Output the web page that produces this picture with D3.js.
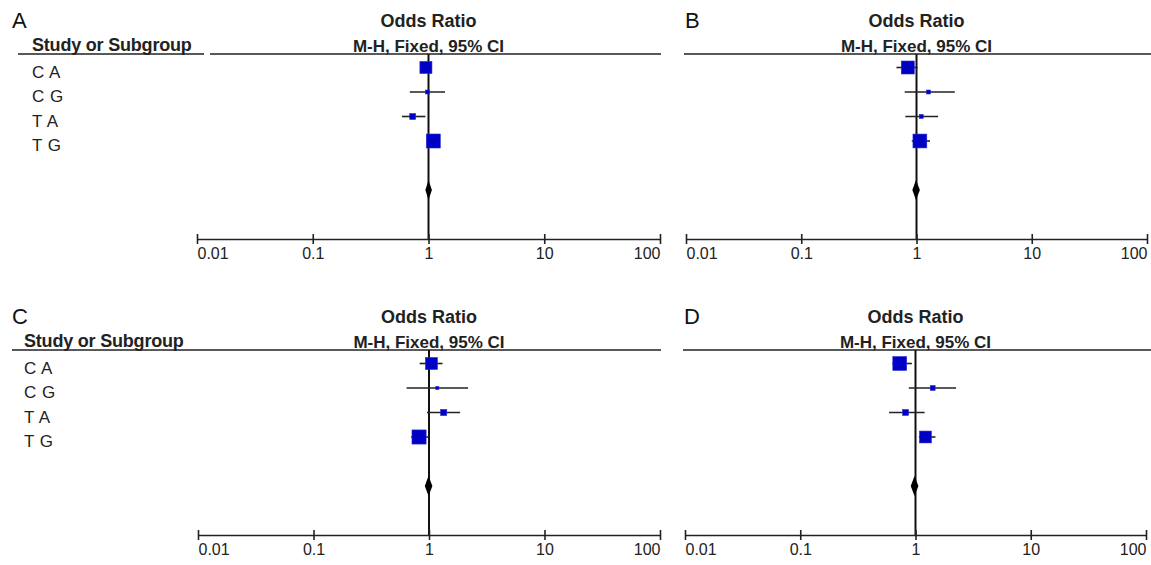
<!DOCTYPE html>
<html>
<head>
<meta charset="utf-8">
<script src="https://cdn.jsdelivr.net/npm/d3@7"></script>
<style>
  body { margin: 0; background: #fff; }
  svg { display: block; }
  text { font-family: "Liberation Sans", Arial, sans-serif; }
</style>
</head>
<body>
<svg id="chart" width="1151" height="565"></svg>
<script>
// subgroup names and axis ticks
var categories = ["C A", "C G", "T A", "T G"];
var tickValues = [0.01, 0.1, 1, 10, 100];
var tickLabels = ["0.01", "0.1", "1", "10", "100"];

// panel A
var orA = [0.95, 0.98, 0.73, 1.10];
var lowA = [0.87, 0.69, 0.59, 0.99];
var highA = [1.04, 1.39, 0.94, 1.20];
var weightA = [37, 4, 9, 50];
var pooledA = [1.00, 0.94, 1.07];

// panel B
var orB = [0.84, 1.27, 1.10, 1.07];
var lowB = [0.67, 0.79, 0.80, 0.91];
var highB = [1.02, 2.15, 1.54, 1.31];
var weightB = [43, 4, 4, 49];
var pooledB = [0.99, 0.92, 1.07];

// panel C
var orC = [1.05, 1.18, 1.34, 0.82];
var lowC = [0.83, 0.64, 0.96, 0.70];
var highC = [1.31, 2.18, 1.86, 1.00];
var weightC = [37, 2.5, 9.5, 51];
var pooledC = [0.99, 0.92, 1.07];

// panel D
var orD = [0.73, 1.41, 0.82, 1.22];
var lowD = [0.63, 0.875, 0.59, 1.07];
var highD = [0.93, 2.25, 1.20, 1.49];
var weightD = [49, 6, 9, 36];
var pooledD = [0.98, 0.91, 1.06];

var panels = [
  { letter: "A", or: orA, low: lowA, high: highA, w: weightA, pooled: pooledA,
    left: 197, right: 660, top: 54, letterX: 12, labels: true, labelX: 32, splitLine: true },
  { letter: "B", or: orB, low: lowB, high: highB, w: weightB, pooled: pooledB,
    left: 686, right: 1147, top: 54, letterX: 685, labels: false },
  { letter: "C", or: orC, low: lowC, high: highC, w: weightC, pooled: pooledC,
    left: 198, right: 660, top: 350, letterX: 12, labels: true, labelX: 24, splitLine: false },
  { letter: "D", or: orD, low: lowD, high: highD, w: weightD, pooled: pooledD,
    left: 685, right: 1146, top: 350, letterX: 684, labels: false }
];

var svg = d3.select('#chart');
var sizeScale = d3.scaleSqrt().domain([0, 50]).range([0, 14]);

panels.forEach(function(p) {
  var g = svg.append('g');
  var x = d3.scaleLog().domain([0.01, 100]).range([p.left, p.right]);
  var y = d3.scaleLinear().domain([0, 1]).range([p.top + 13.5, p.top + 38]);
  var axisY = p.top + 185;

  // panel letter
  g.append('text')
    .attr('x', p.letterX)
    .attr('y', p.top - 26)
    .attr('font-size', 22)
    .attr('fill', '#111')
    .text(p.letter);

  // header lines
  if (p.labels) {
    g.append('text')
      .attr('x', p.labelX)
      .attr('y', p.top - 3)
      .attr('font-size', 18)
      .attr('font-weight', 'bold')
      .attr('letter-spacing', -0.2)
      .attr('fill', '#222')
      .text('Study or Subgroup');
    if (p.splitLine) {
      g.append('line').attr('x1', 18).attr('x2', 204).attr('y1', p.top).attr('y2', p.top)
        .attr('stroke', '#222').attr('stroke-width', 1.5);
      g.append('line').attr('x1', 210).attr('x2', p.right + 1).attr('y1', p.top).attr('y2', p.top)
        .attr('stroke', '#222').attr('stroke-width', 1.5);
    } else {
      g.append('line').attr('x1', 12).attr('x2', p.right + 1).attr('y1', p.top).attr('y2', p.top)
        .attr('stroke', '#222').attr('stroke-width', 1.5);
    }
  } else {
    g.append('line').attr('x1', p.left - 2).attr('x2', 1151).attr('y1', p.top).attr('y2', p.top)
      .attr('stroke', '#222').attr('stroke-width', 1.5);
  }

  g.append('text')
    .attr('x', x(1))
    .attr('y', p.top - 27)
    .attr('text-anchor', 'middle')
    .attr('font-size', 18)
    .attr('font-weight', 'bold')
    .attr('fill', '#222')
    .text('Odds Ratio');
  g.append('text')
    .attr('x', x(1))
    .attr('y', p.top - 2)
    .attr('text-anchor', 'middle')
    .attr('font-size', 17)
    .attr('font-weight', 'bold')
    .attr('fill', '#222')
    .text('M-H, Fixed, 95% CI');

  // row labels
  if (p.labels) {
    g.selectAll('.rowlab').data(categories).enter().append('text')
      .attr('x', p.labelX)
      .attr('y', function(d, i) { return y(i) + 10; })
      .attr('font-size', 17)
      .attr('letter-spacing', 0.5)
      .attr('fill', '#222')
      .text(function(d) { return d; });
  }

  // no-effect line
  g.append('line')
    .attr('x1', x(1)).attr('x2', x(1))
    .attr('y1', p.top).attr('y2', axisY)
    .attr('stroke', '#111').attr('stroke-width', 2);

  // confidence intervals
  g.selectAll('.ci').data(p.or).enter().append('line')
    .attr('x1', function(d, i) { return x(p.low[i]); })
    .attr('x2', function(d, i) { return x(p.high[i]); })
    .attr('y1', function(d, i) { return y(i); })
    .attr('y2', function(d, i) { return y(i); })
    .attr('stroke', '#222').attr('stroke-width', 1.6);

  // weight boxes
  g.selectAll('.box').data(p.or).enter().append('rect')
    .attr('x', function(d, i) { return x(d) - sizeScale(p.w[i]) / 2; })
    .attr('y', function(d, i) { return y(i) - sizeScale(p.w[i]) / 2; })
    .attr('width', function(d, i) { return sizeScale(p.w[i]); })
    .attr('height', function(d, i) { return sizeScale(p.w[i]); })
    .attr('fill', '#0000c4')
    .attr('stroke', '#2a2ad8').attr('stroke-width', 0.6);

  // pooled diamond
  var dy = y(5);
  var pts = [[x(p.pooled[1]), dy], [x(p.pooled[0]), dy - 10], [x(p.pooled[2]), dy], [x(p.pooled[0]), dy + 10]];
  g.append('path')
    .attr('d', 'M' + pts.join('L') + 'Z')
    .attr('fill', '#000');

  // axis
  var axisG = g.append('g')
    .attr('transform', 'translate(0,' + axisY + ')')
    .call(d3.axisBottom(x).tickValues(tickValues).tickSize(0)
      .tickFormat(function(d, i) { return tickLabels[i]; }));
  axisG.select('.domain').attr('stroke', '#222').attr('stroke-width', 1.6);
  axisG.selectAll('.tick line').attr('y1', -5).attr('y2', 5)
    .attr('stroke', '#222').attr('stroke-width', 1.6);
  axisG.selectAll('.tick text')
    .attr('font-family', '"DejaVu Sans", sans-serif')
    .attr('font-size', 16)
    .attr('fill', '#222')
    .attr('y', 9)
    .attr('text-anchor', function(d, i) { return i === 0 ? 'start' : (i === tickValues.length - 1 ? 'end' : 'middle'); });
});
</script>
</body>
</html>
